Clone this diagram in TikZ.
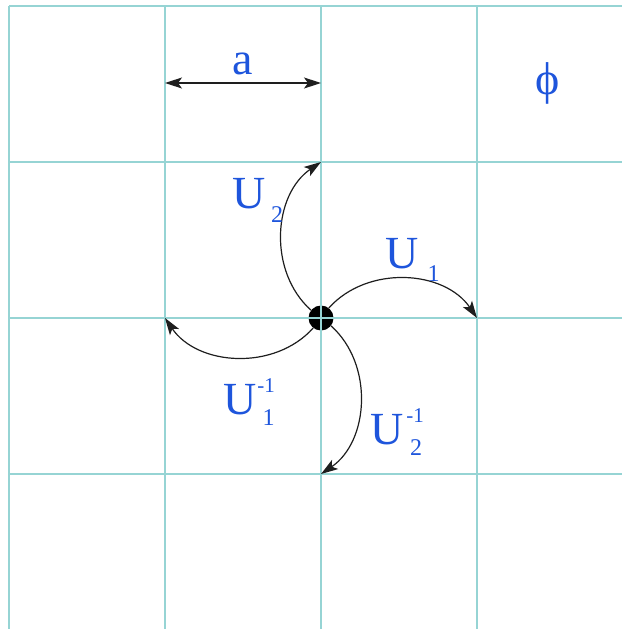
\documentclass[tikz,border=0pt]{standalone}
\usepackage{fontspec}
\setmainfont{Liberation Serif}
\usetikzlibrary{arrows.meta}
\definecolor{gridteal}{RGB}{150,212,212}
\definecolor{lblue}{RGB}{30,85,220}
\definecolor{arcgray}{RGB}{30,30,30}
\tikzset{
  gridline/.style={draw=gridteal, line width=2.2pt},
  big/.style={inner sep=0pt, text=lblue, font=\fontsize{46}{50}\selectfont},
  small/.style={inner sep=0pt, text=lblue, font=\fontsize{24}{26}\selectfont},
  tiny/.style={inner sep=0pt, text=lblue, font=\fontsize{21}{23}\selectfont},
  tip/.style={Stealth[length=17pt,width=11pt,inset=4pt]},
  hop/.style={draw=arcgray, line width=1.2pt, -{Stealth[length=17pt,width=11pt,inset=4pt]}},
  dim/.style={draw=arcgray, line width=1.2pt, {Stealth[length=17pt,width=11pt,inset=4pt]}-{Stealth[length=17pt,width=11pt,inset=4pt]}}
}
\begin{document}
\begin{tikzpicture}[x=1pt,y=-1pt]
\useasboundingbox (0,0) rectangle (622,629);
% site dot
\node[circle, fill=black, minimum size=25pt, inner sep=0pt] (c) at (321,318) {};
% grid
\foreach \x in {9,165,321,477} \draw[gridline] (\x,6) -- (\x,629);
\foreach \y in {6,162,318,474} \draw[gridline] (9,\y) -- (622,\y);
% neighbour sites
\coordinate (e) at (477,318);
\coordinate (n) at (321,162);
\coordinate (w) at (165,318);
\coordinate (s) at (321,474);
\draw[hop] (c) to[bend left=52] (e);
\draw[hop] (c) to[bend left=52] (n);
\draw[hop] (c) to[bend left=52] (w);
\draw[hop] (c) to[bend left=52] (s);
% lattice spacing
\coordinate (a1) at (165,83);
\coordinate (a2) at (321,83);
\draw[dim] (a1) -- (a2);
\node[big] (alab) at (243,63.5) {a};
\node[big] (phi) at (547.5,83.5) {ϕ};
% labels
\node[big] (u1) at (402.5,254) {U};
\node[small] (u1s) at (433.5,273.5) {1};
\node[big] (u2) at (249,194) {U};
\node[small] (u2s) at (277,215) {2};
\node[big] (v1) at (240,400) {U};
\node[tiny] (v1p) at (266,385.5) {-1};
\node[small] (v1s) at (268.5,417.5) {1};
\node[big] (v2) at (387,430) {U};
\node[tiny] (v2p) at (415,415.5) {-1};
\node[small] (v2s) at (416,447.5) {2};
\end{tikzpicture}
\end{document}
